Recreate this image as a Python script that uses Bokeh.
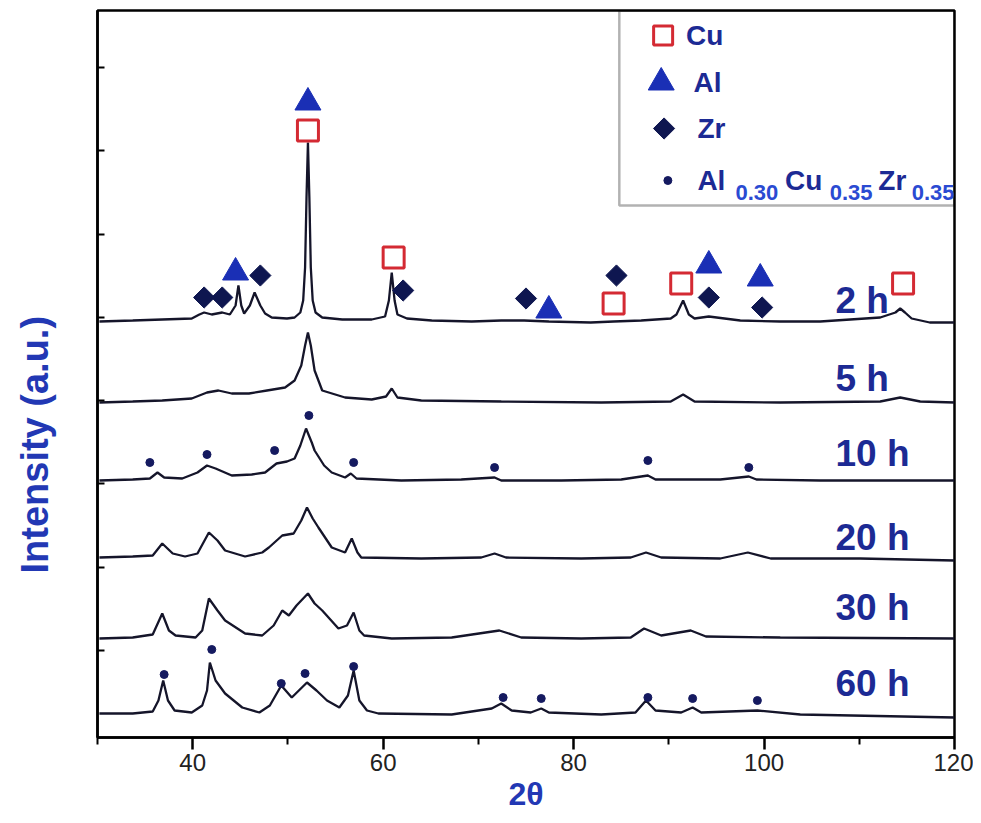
import math
from bokeh.plotting import figure
from bokeh.models import Range1d, FixedTicker, BoxAnnotation, Label, Title
from bokeh.embed import file_html
from bokeh.resources import INLINE

# ---------------- data (2θ in degrees, intensity in a.u., curves stacked) ----------------
x_2h = [30.2, 33.7, 36.8, 39.9, 40.7, 41.2, 42.0, 43.1, 43.9, 44.5, 44.8, 45.1, 45.4, 46.0, 46.5, 47.1,
        47.6, 48.3, 49.9, 50.7, 51.3, 51.6, 51.8, 51.95, 52.1, 52.25, 52.4, 52.6, 52.9, 53.6, 55.7, 58.8,
        60.2, 60.6, 60.9, 61.2, 61.5, 62.0, 62.5, 65.1, 69.3, 72.4, 74.8, 77.4, 81.8, 84.2, 87.1, 90.2,
        90.8, 91.5, 92.1, 92.7, 94.2, 97.5, 101.7, 105.9, 112.2, 113.8, 114.3, 114.8, 115.5, 117.4, 120.0]
y_2h = [416, 417, 418, 419, 423, 425, 423, 425, 423, 432, 452, 432, 424, 432, 445, 432,
        424, 420, 419, 420, 425, 437, 470, 540, 595, 540, 470, 437, 425, 420, 418, 418,
        421, 437, 465, 437, 423, 421, 419, 417, 416, 417, 417, 416, 415, 416, 417, 419,
        423, 437, 423, 419, 421, 417, 416, 416, 420, 425, 429, 425, 419, 415, 415]

x_5h = [30.2, 33.7, 36.8, 39.9, 41.5, 42.7, 44.1, 45.9, 47.8, 49.7, 50.7, 51.4, 51.8, 52.1, 52.4, 52.8,
        53.6, 56.0, 58.8, 60.3, 60.9, 61.5, 64.0, 72.4, 82.9, 90.2, 91.5, 92.7, 101.7, 112.2, 114.3,
        116.4, 120.0]
y_5h = [335, 336, 337, 339, 345, 347, 344, 344, 347, 350, 357, 372, 392, 405, 392, 367,
        347, 340, 338, 341, 349, 340, 337, 336, 335, 336, 343, 336, 335, 336, 340,
        336, 335]

x_10h = [30.2, 33.7, 35.5, 36.3, 37.0, 38.9, 40.5, 41.5, 42.4, 44.1, 46.2, 47.6, 48.8, 49.9, 50.7, 51.3,
         51.9, 52.5, 52.8, 53.8, 54.6, 56.0, 56.6, 57.2, 61.9, 68.2, 71.7, 72.4, 78.7, 85.0, 87.8, 88.6,
         95.4, 98.4, 99.2, 105.9, 114.3, 120.0]
y_10h = [257, 258, 259, 265, 260, 259, 265, 272, 269, 262, 263, 265, 274, 276, 279, 292,
         309, 295, 287, 272, 265, 260, 264, 259, 257, 258, 260, 257, 257, 258, 262, 258,
         258, 261, 258, 257, 257, 257]

x_20h = [30.2, 33.7, 35.8, 36.8, 37.9, 39.2, 40.5, 41.7, 42.6, 43.4, 45.5, 47.3, 48.0, 49.4, 50.6, 51.4,
         52.0, 52.6, 53.2, 54.6, 56.0, 56.7, 57.3, 57.7, 64.0, 70.3, 71.7, 72.9, 80.8, 86.0, 87.6, 89.2,
         95.4, 98.3, 100.7, 110.1, 120.0]
y_20h = [180, 181, 182, 194, 184, 181, 184, 205, 197, 187, 181, 185, 190, 202, 204, 217,
         230, 219, 210, 190, 185, 199, 185, 180, 179, 180, 184, 180, 179, 180, 185, 180,
         179, 185, 179, 179, 177]

x_30h = [30.2, 33.7, 35.8, 36.8, 37.5, 38.2, 40.3, 41.0, 41.7, 42.6, 43.4, 45.5, 47.3, 48.5, 49.4, 50.1,
         50.9, 52.1, 52.8, 53.6, 55.3, 56.2, 56.9, 57.5, 58.0, 60.9, 67.2, 72.2, 74.5, 80.8, 86.0, 87.4,
         89.2, 92.3, 93.9, 101.7, 120.0]
y_30h = [99, 100, 103, 124, 107, 102, 100, 107, 139, 127, 117, 104, 102, 112, 127, 122,
         132, 144, 134, 127, 109, 112, 125, 107, 102, 99, 100, 107, 100, 99, 100, 109,
         102, 107, 101, 100, 99]

x_60h = [30.2, 33.7, 35.8, 36.4, 36.9, 37.4, 38.1, 39.9, 41.0, 41.5, 41.8, 42.4, 43.4, 45.2, 47.0, 48.1,
         49.3, 50.4, 52.0, 53.0, 54.1, 55.4, 56.3, 56.9, 57.5, 58.3, 59.5, 67.2, 71.4, 72.4, 73.5, 75.5,
         76.6, 77.4, 82.9, 86.5, 87.6, 88.6, 91.3, 92.5, 93.4, 99.3, 103.8, 120.0]
y_60h = [24, 24, 26, 37, 57, 37, 27, 25, 32, 47, 75, 57, 44, 30, 25, 32,
         52, 40, 55, 47, 37, 30, 42, 67, 37, 27, 24, 23, 29, 34, 27, 25,
         29, 25, 23, 25, 37, 27, 25, 30, 25, 27, 23, 20]

curves_x = [x_2h, x_5h, x_10h, x_20h, x_30h, x_60h]
curves_y = [y_2h, y_5h, y_10h, y_20h, y_30h, y_60h]
curve_labels = ["2 h", "5 h", "10 h", "20 h", "30 h", "60 h"]
curve_label_y = [437, 359, 284, 200, 130, 54]

# phase markers on the 2 h pattern
cu_x = [52.1, 61.1, 84.2, 91.3, 114.6]
cu_y = [607, 480, 434, 454, 454]
al_x = [44.5, 52.1, 77.4, 94.2, 99.6]
al_y = [465, 635, 427, 472, 459]
zr_x = [41.2, 43.1, 47.1, 62.1, 75.0, 84.5, 94.2, 99.8]
zr_y = [440, 440, 462, 447, 439, 462, 440, 430]
# Al0.30Cu0.35Zr0.35 markers (10 h and 60 h patterns)
alcz_x = [35.5, 41.5, 48.6, 52.2, 56.9, 71.7, 87.8, 98.4,
          37.0, 42.0, 49.3, 51.8, 56.9, 72.6, 76.6, 87.8, 92.5, 99.3]
alcz_y = [275, 283, 287, 322, 275, 270, 277, 270,
          63, 88, 54, 64, 71, 40, 39, 40, 39, 37]

x_ticks = [40, 60, 80, 100, 120]
x_minor = [30, 50, 70, 90, 110]
y_ticks = [87, 170, 254, 337, 420, 503, 587, 670]

# ---------------- styles ----------------
FONT = "Liberation Sans"
LINE = "#15152a"
NAVY = "#1c2a94"
LBLUE = "#2238b4"
SUBBLUE = "#2a4ad2"
RED = "#d42a33"
TRI = "#1a2fb5"
DIA = "#0e1650"
DOT = "#151a60"

p = figure(width=973, height=819, x_range=Range1d(30, 120), y_range=Range1d(0, 727),
           output_backend="svg", toolbar_location=None,
           min_border_left=95, min_border_right=19, min_border_top=10, min_border_bottom=82)
p.xgrid.visible = False
p.ygrid.visible = False
p.outline_line_color = "black"
p.outline_line_width = 2.5
p.background_fill_color = "white"

xa = p.xaxis[0]
xa.ticker = FixedTicker(ticks=x_ticks, minor_ticks=x_minor)
xa.major_tick_out = 12
xa.major_tick_in = 0
xa.minor_tick_out = 7
xa.minor_tick_in = 0
xa.axis_line_width = 2.5
xa.major_tick_line_width = 2.5
xa.minor_tick_line_width = 2
xa.major_label_text_font = FONT
xa.major_label_text_font_size = "24px"
xa.major_label_text_color = "#222222"
xa.major_label_standoff = 4
xa.axis_label = "2θ"
xa.axis_label_text_font = FONT
xa.axis_label_text_font_size = "32px"
xa.axis_label_text_font_style = "bold"
xa.axis_label_text_color = LBLUE
xa.axis_label_standoff = 2

ya = p.yaxis[0]
ya.ticker = FixedTicker(ticks=y_ticks)
ya.major_tick_in = 7
ya.major_tick_out = 0
ya.minor_tick_in = 0
ya.minor_tick_out = 0
ya.axis_line_width = 2.5
ya.major_tick_line_width = 2
ya.major_label_overrides = {t: "" for t in y_ticks}
ya.major_label_standoff = 0
# blank spacer label: pushes the side title outward
ya.axis_label = " "
ya.axis_label_text_font_size = "1px"
ya.axis_label_standoff = 27

# y axis title as a side title, shifted down like the original
p.add_layout(Title(text="Intensity (a.u.)", align="left", offset=164, standoff=22,
                   text_font=FONT, text_font_size="38px", text_font_style="bold",
                   text_color=LBLUE), "left")

for xs, ys in zip(curves_x, curves_y):
    p.line(xs, ys, line_color=LINE, line_width=2.3)

p.scatter(cu_x, cu_y, marker="square", size=21, line_color=RED, line_width=3, fill_color="white")
p.scatter(al_x, al_y, marker="triangle", size=26, line_color=TRI, fill_color=TRI)
p.scatter(zr_x, zr_y, marker="square", angle=math.pi / 4, size=15, line_color=DIA, fill_color=DIA)
p.scatter(alcz_x, alcz_y, marker="circle", size=8, line_color=DOT, fill_color=DOT)

for txt, yy in zip(curve_labels, curve_label_y):
    p.add_layout(Label(x=107.5, y=yy, text=txt, text_align="left", text_baseline="middle",
                       text_font=FONT, text_font_size="37px", text_font_style="bold", text_color=NAVY))

# ---------------- legend (manual, for subscripts) ----------------
p.add_layout(BoxAnnotation(left=84.8, right=120, bottom=532, top=727, fill_alpha=0,
                           line_color="black", line_width=2.5, level="underlay"))
p.scatter([89.4], [702], marker="square", size=19, line_color=RED, line_width=3, fill_color="white")
p.scatter([89.2], [655], marker="triangle", size=26, line_color=TRI, fill_color=TRI)
p.scatter([89.5], [609], marker="square", angle=math.pi / 4, size=15, line_color=DIA, fill_color=DIA)
p.scatter([89.9], [557], marker="circle", size=8, line_color=DOT, fill_color=DOT)

def leg_text(x, y, t, size="28px", color=NAVY):
    p.add_layout(Label(x=x, y=y, text=t, text_align="left", text_baseline="middle",
                       text_font=FONT, text_font_size=size, text_font_style="bold", text_color=color))

leg_text(91.8, 702, "Cu")
leg_text(92.6, 655, "Al")
leg_text(93.0, 609, "Zr")
leg_text(93.0, 557, "Al")
leg_text(97.0, 545, "0.30", "22px", SUBBLUE)
leg_text(102.2, 557, "Cu")
leg_text(106.9, 545, "0.35", "22px", SUBBLUE)
leg_text(112.0, 557, "Zr")
leg_text(115.5, 545, "0.35", "22px", SUBBLUE)

open("out.html", "w").write(file_html(p, INLINE))
